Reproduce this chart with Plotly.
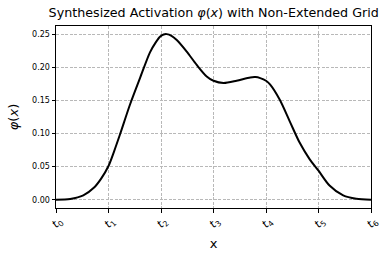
import plotly.graph_objects as go

# knot positions t0..t6 and curve values
x_vals = [0.00, 0.27, 0.52, 0.72, 0.86, 1.00, 1.11, 1.22, 1.41, 1.60, 1.79, 1.90, 1.98, 2.05,
          2.11, 2.20, 2.30, 2.49, 2.68, 2.87, 3.00, 3.19, 3.44, 3.70, 3.80, 3.89, 4.00, 4.08,
          4.26, 4.45, 4.64, 4.83, 5.00, 5.21, 5.47, 5.72, 6.00]
phi_vals = [0.000, 0.001, 0.0065, 0.018, 0.032, 0.051, 0.074, 0.099, 0.144, 0.184, 0.223, 0.238,
            0.2465, 0.2500, 0.2505, 0.2480, 0.2415, 0.224, 0.204, 0.1865, 0.180, 0.1765, 0.180,
            0.185, 0.1855, 0.184, 0.180, 0.174, 0.1515, 0.119, 0.0865, 0.0615, 0.044, 0.0215,
            0.0065, 0.0015, 0.000]
knot_pos = [0, 1, 2, 3, 4, 5, 6]
knot_labels = [f"<i>t</i><sub>{i}</sub>" for i in range(7)]
y_ticks = [0.00, 0.05, 0.10, 0.15, 0.20, 0.25]
y_tick_labels = ["0.00", "0.05", "0.10", "0.15", "0.20", "0.25"]

fig = go.Figure()
fig.add_trace(go.Scatter(x=x_vals, y=phi_vals, mode="lines",
                         line=dict(color="black", width=2, shape="spline", smoothing=0.8),
                         showlegend=False, hoverinfo="skip"))

font = "DejaVu Sans"
fig.update_layout(
    width=390, height=260,
    margin=dict(l=56, r=19, t=26, b=52, autoexpand=False),
    paper_bgcolor="white", plot_bgcolor="white",
    font=dict(family=font, color="black"),
    title=dict(text="Synthesized Activation <i>φ</i>(<i>x</i>) with Non-Extended Grid",
               x=0.548, xanchor="center", y=0.935, yanchor="bottom", automargin=False,
               font=dict(size=12.7, family=font, color="black")),
)
fig.update_xaxes(range=[0, 6], tickvals=knot_pos, ticktext=knot_labels, tickangle=-45,
                 tickfont=dict(size=11, family=font), ticks="outside", ticklen=3.5,
                 tickcolor="black", showline=True, linecolor="black", linewidth=1,
                 mirror=True, showgrid=True, gridcolor="#b8b8b8", griddash="3px,1.5px",
                 gridwidth=0.7, zeroline=False, ticklabelshift=3, ticklabelstandoff=-2,
                 automargin=False,
                 title=dict(text="x", font=dict(size=13, family=font), standoff=8))
fig.update_yaxes(range=[-0.0125, 0.2628], tickvals=y_ticks, ticktext=y_tick_labels,
                 tickfont=dict(size=8, family=font), ticks="outside", ticklen=3.5,
                 tickcolor="black", showline=True, linecolor="black", linewidth=1,
                 mirror=True, showgrid=True, gridcolor="#b8b8b8", griddash="3px,1.5px",
                 gridwidth=0.7, zeroline=False, automargin=False,
                 title=dict(text="<i>φ</i>(<i>x</i>)", font=dict(size=13, family=font),
                            standoff=10))

fig.write_html("out.html", config={"displayModeBar": False},
               post_script="document.body.style.margin='0px';")
